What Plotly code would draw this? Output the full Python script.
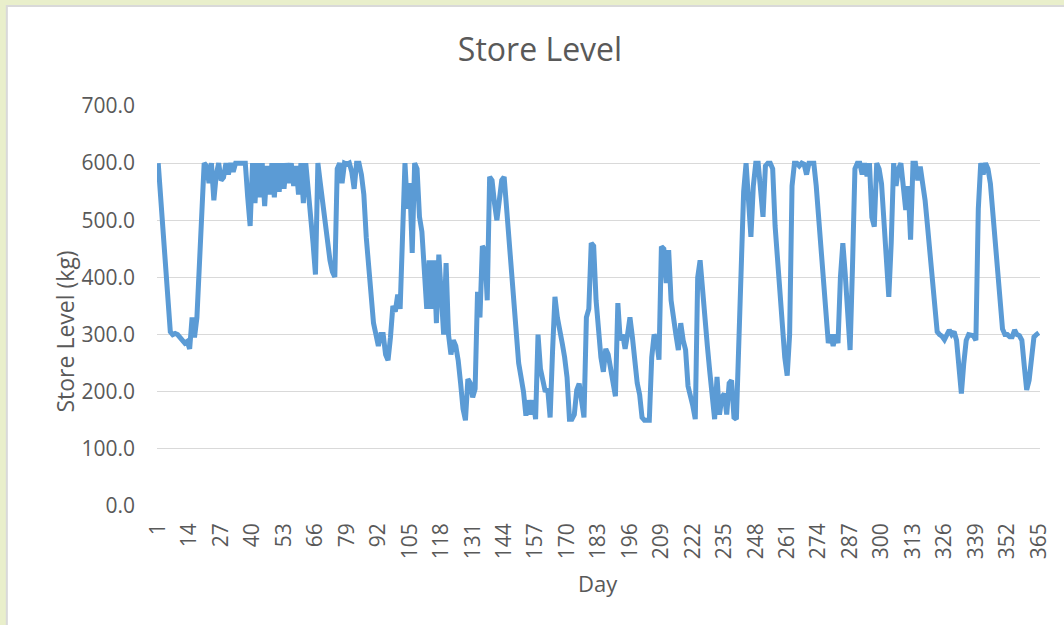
import plotly.graph_objects as go

# Daily store level (kg), grouped by month of the year
level_jan = [600, 540, 470, 410, 350, 305, 300, 302, 300, 295,
             290, 285, 288, 275, 330, 295, 330, 420, 530, 600,
             595, 565, 600, 535, 580, 600, 570, 575, 600, 580,
             600]
level_feb = [585, 600, 600, 598, 600, 600, 540, 490, 600,
             530, 600, 540, 600, 525, 595, 545, 600, 540, 600,
             550, 600, 555, 600, 565, 600, 560, 595, 545]
level_mar = [600,
             530, 600, 560, 506, 460, 405, 600, 565, 530, 500,
             470, 430, 410, 401, 590, 600, 565, 600, 598, 600,
             585, 555, 600, 600, 580, 545, 470, 410, 355, 320]
level_apr = [300, 280, 300, 300, 265, 255, 295, 350, 340, 370,
             345, 495, 600, 520, 565, 443, 600, 590, 506, 480,
             400, 345, 430, 345, 430, 320, 440, 350, 300, 425]
level_may = [300, 265, 290, 280, 255, 215, 170, 150, 222, 215,
             190, 205, 375, 330, 455, 448, 360, 576, 570, 530,
             500, 535, 570, 576, 520, 460, 420, 370, 314, 250,
             225]
level_jun = [200, 158, 185, 160, 185, 152, 300, 240, 214,
             200, 205, 155, 270, 366, 330, 300, 285, 260, 225,
             152, 152, 160, 203, 214, 190, 155, 330, 345, 460,
             455]
level_jul = [360, 300, 260, 235, 275, 265, 240, 215, 192,
             355, 290, 300, 275, 300, 330, 296, 245, 215, 195,
             155, 150, 150, 150, 260, 300, 290, 256, 454, 450,
             390, 448]
level_aug = [360, 320, 300, 273, 320, 290, 273, 210,
             195, 175, 152, 400, 430, 370, 320, 280, 235, 180,
             152, 226, 160, 190, 197, 160, 215, 220, 155, 152,
             300, 448, 550]
level_sep = [600, 520, 471, 560, 600, 600, 540,
             506, 595, 600, 600, 590, 490, 430, 370, 310, 260,
             228, 300, 560, 600, 600, 595, 600, 598, 580, 600,
             600, 600, 560]
level_oct = [500, 440, 385, 320, 285, 300, 280,
             300, 285, 400, 460, 405, 340, 273, 420, 590, 600,
             600, 580, 600, 577, 600, 505, 489, 600, 590, 564,
             506, 450, 366, 460]
level_nov = [600, 560, 590, 600, 552, 518,
             560, 466, 600, 600, 570, 594, 564, 535, 490, 440,
             405, 360, 305, 300, 297, 291, 300, 308, 300, 305,
             290, 240, 197, 250]
level_dec = [290, 300, 300, 298, 290, 520,
             600, 580, 600, 590, 564, 510, 460, 420, 365, 310,
             300, 300, 296, 296, 308, 300, 298, 290, 245, 203,
             220, 270, 296, 300, 303]

store_level = (level_jan + level_feb + level_mar + level_apr + level_may + level_jun
               + level_jul + level_aug + level_sep + level_oct + level_nov + level_dec)
days = list(range(1, len(store_level) + 1))

# Category labels shown on the day axis (every 13th day)
day_ticks = [1, 14, 27, 40, 53, 66, 79, 92, 105, 118, 131, 144, 157, 170, 183,
             196, 209, 222, 235, 248, 261, 274, 287, 300, 313, 326, 339, 352, 365]
level_ticks = [0, 100, 200, 300, 400, 500, 600, 700]

W, H = 1064, 625
L, R, T, B = 157, 19, 106, 119
PW, PH = W - L - R, H - T - B


def px_x(p):
    return (p - L) / PW


def px_y(p):
    return (H - B - p) / PH


TEXT = "#595959"
FONT = "Open Sans"

fig = go.Figure()
fig.add_trace(go.Scatter(
    x=days, y=store_level, mode="lines",
    line=dict(color="#5B9BD5", width=5),
    hoverinfo="x+y", showlegend=False,
))

fig.update_layout(
    width=W, height=H,
    margin=dict(l=L, r=R, t=T, b=B, pad=0),
    paper_bgcolor="#E9EFCB",
    plot_bgcolor="white",
    font=dict(family=FONT, color=TEXT, size=21),
    title=dict(text="Store Level", x=540 / W, xref="container", xanchor="center",
               y=1 - 50 / H, yref="container", yanchor="middle",
               font=dict(family=FONT, size=32, color=TEXT)),
    showlegend=False,
)

fig.update_xaxes(
    range=[0.5, len(days) + 0.5],
    tickmode="array", tickvals=day_ticks, ticktext=[str(d) for d in day_ticks],
    tickangle=-90, ticks="", showgrid=False, zeroline=False, showline=False,
    ticklabelstandoff=12,
    tickfont=dict(family=FONT, size=21, color=TEXT),
)
fig.update_yaxes(
    range=[0, 700],
    tickmode="array", tickvals=level_ticks, ticktext=[f"{v:.1f}" for v in level_ticks],
    ticks="", showgrid=True, gridcolor="#D9D9D9", gridwidth=1,
    zeroline=False, showline=False,
    ticklabelstandoff=21,
    tickfont=dict(family=FONT, size=21, color=TEXT),
)

# White chart area with a thin grey border
fig.add_shape(type="rect", xref="paper", yref="paper",
              x0=px_x(6), x1=px_x(W + 20), y0=px_y(H + 20), y1=px_y(6),
              fillcolor="white", line=dict(color="#D9D9D9", width=2), layer="below")

# Axis titles
fig.add_annotation(text="Day", xref="paper", yref="paper",
                   x=px_x(600), y=px_y(583), showarrow=False,
                   xanchor="center", yanchor="middle",
                   font=dict(family=FONT, size=22, color=TEXT))
fig.add_annotation(text="Store Level (kg)", xref="paper", yref="paper",
                   x=px_x(64), y=px_y(332), showarrow=False, textangle=-90,
                   xanchor="center", yanchor="middle",
                   font=dict(family=FONT, size=23, color=TEXT))

fig.write_html("out.html")
